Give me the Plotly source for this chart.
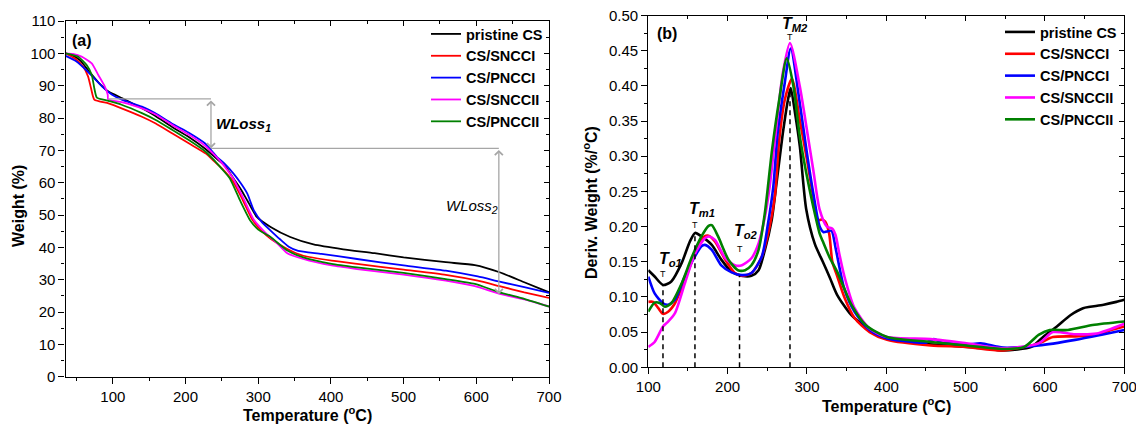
import plotly.graph_objects as go

# ---------------- (a) TGA data ----------------
tga_names = ["pristine CS", "CS/SNCCI", "CS/PNCCI", "CS/SNCCII", "CS/PNCCII"]
tga_colors = ["#000000", "#ff0000", "#0000ff", "#ff00ff", "#008000"]

tga_black_T = [35, 45, 55, 67, 81, 94, 113, 140, 158, 181, 204, 227, 245, 255, 266, 276, 285, 298, 317, 344, 376, 417, 460, 500, 558, 598, 632, 666, 700]
tga_black_W = [100, 99.3, 97.8, 94.5, 90.8, 88.2, 86.1, 83.0, 80.7, 77.3, 74.2, 70.5, 67.0, 65.0, 61.3, 58.0, 54.5, 49.4, 46.3, 43.2, 40.9, 39.4, 38.2, 36.9, 35.4, 34.5, 32.3, 29.2, 26.1]

tga_red_T = [35, 48, 59, 66, 70, 74.5, 94, 112, 140, 159, 182, 205, 228, 240, 252, 265, 279, 292, 305, 318, 340, 362, 401, 436, 500, 558, 602, 632, 666, 700]
tga_red_W = [100, 98.4, 95.9, 92.8, 89.2, 85.7, 84.5, 83.0, 80.4, 78.3, 75.2, 72.1, 69.0, 66.5, 64.0, 60.5, 54.5, 48.5, 45.0, 42.5, 39.5, 37.4, 35.9, 34.9, 33.1, 31.5, 29.7, 28.0, 26.1, 24.4]

tga_blue_T = [35, 49, 67, 85, 99, 113, 140, 158, 181, 204, 227, 243, 254, 266, 276, 285, 294, 305, 317, 330, 342, 355, 387, 436, 500, 558, 602, 632, 666, 700]
tga_blue_W = [99.2, 97.6, 94.0, 89.8, 87.2, 85.6, 83.5, 81.5, 78.3, 75.5, 72.1, 68.0, 65.8, 62.8, 59.8, 56.6, 51.4, 47.8, 45.2, 42.5, 40.2, 38.9, 38.0, 36.4, 34.4, 32.8, 31.0, 29.4, 27.7, 25.9]

tga_mag_T = [35, 45, 57, 71, 80, 89, 93, 93.5, 112, 140, 159, 182, 205, 228, 240, 252, 265, 280, 294, 310, 325, 340, 362, 401, 436, 500, 558, 598, 632, 666, 700]
tga_mag_W = [100, 99.8, 99.0, 96.9, 93.3, 89.7, 87.2, 85.8, 84.9, 83.0, 81.1, 77.8, 74.8, 71.2, 68.5, 65.5, 61.5, 55.0, 48.5, 44.5, 41.5, 38.2, 36.4, 34.4, 33.3, 31.6, 29.7, 28.0, 25.6, 23.9, 21.7]

tga_green_T = [35, 52, 64, 71, 74.5, 78, 94, 112, 140, 159, 182, 205, 228, 237, 249, 261, 275, 289, 300, 317, 340, 362, 401, 436, 500, 558, 598, 632, 666, 700]
tga_green_W = [100, 99.0, 96.4, 93.3, 89.2, 86.3, 85.3, 84.1, 81.5, 79.4, 76.3, 73.1, 69.5, 67.5, 64.5, 61.3, 54.5, 48.3, 45.5, 43.2, 39.0, 36.9, 34.9, 33.8, 32.1, 30.2, 28.7, 26.1, 24.1, 21.7]

# ---------------- (b) DTG data ----------------
dtg_black_T = [100, 108, 118.5, 129, 142, 152.5, 159, 167, 180, 192, 205, 218, 230, 239, 247, 255.5, 262, 269.5, 276, 279.5, 285, 291, 299, 310, 320, 329, 338, 356, 374, 401, 433, 479, 524, 547, 583, 598, 615, 632, 648, 657, 674, 690, 700]
dtg_black_D = [0.138, 0.129, 0.117, 0.122, 0.148, 0.179, 0.191, 0.186, 0.174, 0.153, 0.136, 0.130, 0.130, 0.138, 0.167, 0.209, 0.265, 0.332, 0.380, 0.397, 0.361, 0.314, 0.225, 0.175, 0.150, 0.127, 0.103, 0.074, 0.058, 0.041, 0.035, 0.031, 0.027, 0.024, 0.029, 0.0435, 0.058, 0.074, 0.084, 0.086, 0.089, 0.093, 0.096]

dtg_red_T = [100, 106, 112.6, 118.5, 125, 133.6, 146, 159, 171, 176, 184, 197, 209, 218, 230, 243, 253, 259.7, 265, 272, 281, 291, 300, 308, 314, 318, 323, 328, 332, 338, 347, 360, 379, 401, 456, 501, 547, 592, 610, 638, 665, 683, 700]
dtg_red_D = [0.093, 0.093, 0.084, 0.076, 0.079, 0.091, 0.124, 0.162, 0.186, 0.187, 0.179, 0.153, 0.134, 0.130, 0.134, 0.157, 0.200, 0.245, 0.323, 0.380, 0.410, 0.351, 0.295, 0.242, 0.209, 0.210, 0.207, 0.190, 0.150, 0.130, 0.100, 0.070, 0.050, 0.039, 0.031, 0.029, 0.024, 0.034, 0.043, 0.044, 0.046, 0.053, 0.058]

dtg_blue_T = [100, 108, 118.5, 125, 133.6, 146, 159, 167, 171.4, 180, 192, 205, 218, 230, 243, 251, 257.6, 263, 272, 279.5, 291, 300, 308, 316, 321, 325, 331, 336, 347, 360, 379, 401, 433, 450, 460, 470, 479, 501, 519, 547, 592, 638, 670, 700]
dtg_blue_D = [0.129, 0.105, 0.091, 0.089, 0.096, 0.129, 0.158, 0.172, 0.174, 0.167, 0.145, 0.135, 0.131, 0.134, 0.157, 0.205, 0.257, 0.332, 0.404, 0.453, 0.375, 0.304, 0.247, 0.200, 0.192, 0.193, 0.194, 0.170, 0.112, 0.079, 0.053, 0.041, 0.036, 0.035, 0.040, 0.035, 0.034, 0.032, 0.034, 0.028, 0.031, 0.039, 0.046, 0.053]

dtg_mag_T = [100, 108, 118.5, 125, 133.6, 146, 159, 171, 176, 184, 197, 209, 218, 230, 239, 247, 253, 260.5, 269.5, 278.6, 291, 300, 308, 316, 325, 332, 336, 341, 347, 360, 379, 401, 456, 501, 547, 592, 610, 638, 665, 700]
dtg_mag_D = [0.029, 0.036, 0.058, 0.065, 0.077, 0.119, 0.162, 0.183, 0.186, 0.181, 0.155, 0.145, 0.145, 0.155, 0.176, 0.214, 0.257, 0.332, 0.418, 0.461, 0.399, 0.337, 0.280, 0.224, 0.200, 0.197, 0.188, 0.160, 0.130, 0.084, 0.055, 0.043, 0.040, 0.034, 0.027, 0.034, 0.050, 0.047, 0.048, 0.062]

dtg_green_T = [100, 108, 115, 121, 129, 142, 155, 167, 176, 180, 188, 201, 213, 222, 230, 239, 247, 256, 265, 274.5, 283, 291, 300, 308, 316, 320, 329, 338, 347, 356, 374, 401, 456, 501, 547, 574, 592, 606, 629, 660, 700]
dtg_green_D = [0.079, 0.092, 0.091, 0.086, 0.091, 0.119, 0.157, 0.186, 0.201, 0.202, 0.186, 0.153, 0.138, 0.138, 0.145, 0.167, 0.220, 0.309, 0.380, 0.439, 0.399, 0.328, 0.271, 0.228, 0.190, 0.179, 0.155, 0.136, 0.112, 0.089, 0.060, 0.043, 0.036, 0.031, 0.026, 0.029, 0.046, 0.053, 0.053, 0.060, 0.065]

# characteristic temperatures (b)
peak_labels = ["T<sub>o1</sub>", "T<sub>m1</sub>", "T<sub>o2</sub>", "T<sub>M2</sub>"]
peak_T = [118.5, 158.8, 215, 278.6]
peak_line_top = [0.117, 0.191, 0.130, 0.397]
peak_mark_D = [0.1327, 0.2024, 0.1678, 0.470]
label_T = [110.5, 148.3, 205, 266]
label_D = [0.153, 0.224, 0.193, 0.487]

# weight-loss construction (a)
wl_arrow_T = [235, 631]
wl_top = [85.9, 70.6]
wl_bottom = [70.6, 25.5]
wl_hline_start = [93.5, 235]
wl_text = ["<b><i>WLoss<sub>1</sub></i></b>", "<i>WLoss<sub>2</sub></i>"]
wl_text_T = [239, 555]
wl_text_W = [78.0, 52.5]

x_title = "<b>Temperature (<sup>o</sup>C)</b>"
y_titles = ["<b>Weight (%)</b>", "<b>Deriv. Weight (%/<sup>o</sup>C)</b>"]

FONT = "Liberation Sans, Arial, sans-serif"
W_PX, H_PX = 1136, 425

def fx(px):
    return px / W_PX

def fy(py):
    return 1 - py / H_PX

fig = go.Figure()

tga = [(tga_black_T, tga_black_W), (tga_red_T, tga_red_W), (tga_blue_T, tga_blue_W),
       (tga_mag_T, tga_mag_W), (tga_green_T, tga_green_W)]
dtg = [(dtg_black_T, dtg_black_D), (dtg_red_T, dtg_red_D), (dtg_blue_T, dtg_blue_D),
       (dtg_mag_T, dtg_mag_D), (dtg_green_T, dtg_green_D)]

for (T, W), name, col in zip(tga, tga_names, tga_colors):
    fig.add_trace(go.Scatter(x=T, y=W, mode="lines", name=name,
                             line=dict(color=col, width=1.8, shape="spline", smoothing=0.5),
                             xaxis="x", yaxis="y", legend="legend"))
for (T, D), name, col in zip(dtg, tga_names, tga_colors):
    fig.add_trace(go.Scatter(x=T, y=D, mode="lines", name=name,
                             line=dict(color=col, width=2.6, shape="spline", smoothing=0.7),
                             xaxis="x2", yaxis="y2", legend="legend2"))

# dummy traces to activate mirror (inside-tick) axes
fig.add_trace(go.Scatter(x=[None], y=[None], xaxis="x3", yaxis="y3", showlegend=False, hoverinfo="skip"))
fig.add_trace(go.Scatter(x=[None], y=[None], xaxis="x4", yaxis="y4", showlegend=False, hoverinfo="skip"))

dom_ax = [fx(65.6), fx(549)]
dom_ay = [fy(376.7), fy(21)]
dom_bx = [fx(648.3), fx(1124.3)]
dom_by = [fy(367.3), fy(15.5)]

tickfont = dict(family=FONT, size=15, color="black")
titlefont = dict(family=FONT, size=16, color="black")

def main_axis(**kw):
    d = dict(showline=True, linecolor="black", linewidth=1.3, mirror=True,
             ticks="outside", ticklen=6, tickwidth=1.2, tickcolor="black",
             showgrid=False, zeroline=False, tickfont=tickfont, automargin=False,
             ticklabeloverflow="allow")
    d.update(kw)
    return d

def mirror_axis(**kw):
    d = dict(showline=False, ticks="inside", ticklen=5, tickwidth=1.2, tickcolor="black",
             showticklabels=False, showgrid=False, zeroline=False, automargin=False)
    d.update(kw)
    return d

legend_font = dict(family=FONT, size=14.5, color="black", weight="bold")

fig.update_layout(
    width=W_PX, height=H_PX,
    margin=dict(l=0, r=0, t=0, b=0, autoexpand=False),
    paper_bgcolor="white", plot_bgcolor="white",
    font=dict(family=FONT, color="black"),
    xaxis=main_axis(domain=dom_ax, anchor="y", range=[35, 700], tick0=0, dtick=100,
                    minor=dict(dtick=50, tick0=0, ticks="outside", ticklen=3, tickcolor="black")),
    yaxis=main_axis(domain=dom_ay, anchor="x", range=[0, 110], tick0=0, dtick=10,
                    minor=dict(dtick=5, tick0=0, ticks="outside", ticklen=3, tickcolor="black")),
    xaxis2=main_axis(domain=dom_bx, anchor="y2", range=[100, 700], tick0=0, dtick=100,
                     minor=dict(dtick=50, tick0=0, ticks="outside", ticklen=3, tickcolor="black")),
    yaxis2=main_axis(domain=dom_by, anchor="x2", range=[0, 0.5], tick0=0, dtick=0.05, tickformat=".2f",
                     minor=dict(dtick=0.025, tick0=0, ticks="outside", ticklen=3, tickcolor="black")),
    xaxis3=mirror_axis(overlaying="x", side="top", anchor="y3", range=[35, 700], tick0=0, dtick=100,
                       minor=dict(dtick=50, tick0=0, ticks="inside", ticklen=3, tickcolor="black")),
    yaxis3=mirror_axis(overlaying="y", side="right", anchor="x3", range=[0, 110], tick0=0, dtick=10,
                       minor=dict(dtick=5, tick0=0, ticks="inside", ticklen=3, tickcolor="black")),
    xaxis4=mirror_axis(overlaying="x2", side="top", anchor="y4", range=[100, 700], tick0=0, dtick=100,
                       minor=dict(dtick=50, tick0=0, ticks="inside", ticklen=3, tickcolor="black")),
    yaxis4=mirror_axis(overlaying="y2", side="right", anchor="x4", range=[0, 0.5], tick0=0, dtick=0.05,
                       minor=dict(dtick=0.025, tick0=0, ticks="inside", ticklen=3, tickcolor="black")),
    legend=dict(x=fx(548), y=fy(18), xanchor="right", yanchor="top", bgcolor="rgba(0,0,0,0)",
                font=legend_font, tracegroupgap=0, itemclick=False),
    legend2=dict(x=fx(1122), y=fy(16), xanchor="right", yanchor="top", bgcolor="rgba(0,0,0,0)",
                 font=legend_font, tracegroupgap=0, itemclick=False),
    showlegend=True,
)

shapes = []
annotations = []
GRAY = "#a6a6a6"

# axis titles
for xr, py in zip(["x domain", "x2 domain"], [414, 405]):
    annotations.append(dict(x=0.5, y=fy(py), xref=xr, yref="paper", text=x_title, showarrow=False,
                            xanchor="center", yanchor="middle", font=titlefont))
for txt, px, py in zip(y_titles, [19, 590], [206, 203]):
    annotations.append(dict(x=fx(px), y=fy(py), xref="paper", yref="paper",
                            text=txt, textangle=-90, showarrow=False,
                            xanchor="center", yanchor="middle", font=titlefont))

# panel labels
annotations.append(dict(x=41, y=104, xref="x", yref="y", text="<b>(a)</b>", showarrow=False,
                        xanchor="left", yanchor="middle", font=dict(family=FONT, size=16, color="black")))
annotations.append(dict(x=108, y=0.475, xref="x2", yref="y2", text="<b>(b)</b>", showarrow=False,
                        xanchor="left", yanchor="middle", font=dict(family=FONT, size=16, color="black")))

# weight-loss construction
for xs, tt, bb, x0 in zip(wl_arrow_T, wl_top, wl_bottom, wl_hline_start):
    shapes.append(dict(type="line", xref="x", yref="y", x0=x0, x1=xs, y0=tt, y1=tt,
                       line=dict(color=GRAY, width=1.3)))
    annotations.append(dict(x=xs, y=bb, ax=xs, ay=tt, xref="x", yref="y", axref="x", ayref="y",
                            text="", showarrow=True, arrowhead=4, startarrowhead=4, arrowside="end+start",
                            arrowsize=1.2, startarrowsize=1.2, arrowwidth=1.3, arrowcolor=GRAY))
for txt, xx, yy in zip(wl_text, wl_text_T, wl_text_W):
    annotations.append(dict(x=xx, y=yy, xref="x", yref="y", text=txt, showarrow=False,
                            xanchor="left", yanchor="middle", font=dict(family=FONT, size=15, color="black")))

# characteristic temperatures
for lab, pt, top, mk, lt, ld in zip(peak_labels, peak_T, peak_line_top, peak_mark_D, label_T, label_D):
    shapes.append(dict(type="line", xref="x2", yref="y2", x0=pt, x1=pt, y0=0, y1=top,
                       line=dict(color="black", width=1.5, dash="5px,4px")))
    annotations.append(dict(x=pt, y=mk, xref="x2", yref="y2", text="T", showarrow=False,
                            xanchor="center", yanchor="middle", font=dict(family=FONT, size=9, color="black")))
    annotations.append(dict(x=lt, y=ld, xref="x2", yref="y2", text="<b><i>" + lab + "</i></b>",
                            showarrow=False, xanchor="left", yanchor="middle",
                            font=dict(family=FONT, size=16, color="black")))

fig.update_layout(shapes=shapes, annotations=annotations)

# the page's default 8px body margin would shift the 1136x425 figure; remove it
fig.write_html("out.html", config={"displayModeBar": False},
               post_script="document.body.style.margin='0px';")
